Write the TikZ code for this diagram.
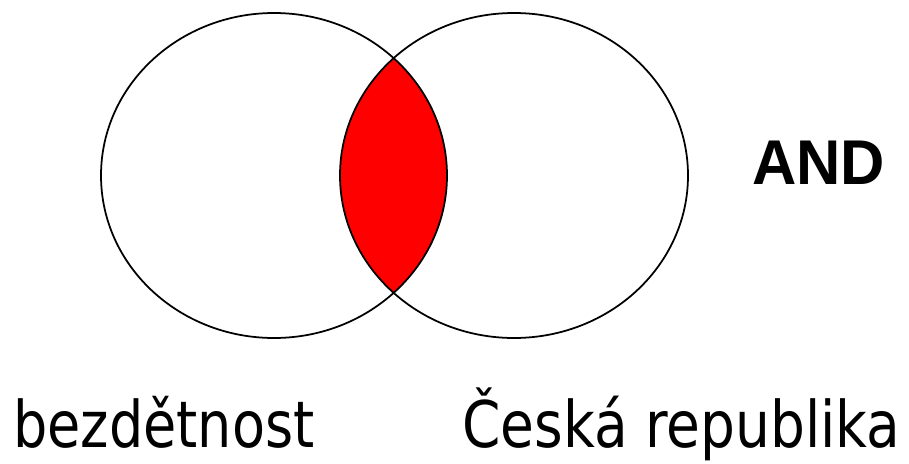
\documentclass[tikz,border=0pt]{standalone}
\usepackage{fontspec}
\setmainfont{DejaVu Sans}
\newfontfamily\andfont{Liberation Sans}
\usetikzlibrary{positioning}

\tikzset{
  setline/.style={black, line width=1pt},
  setlabel/.style={anchor=base west, inner sep=0pt, font=\fontsize{36.6}{36.6}\selectfont},
}

\begin{document}
\begin{tikzpicture}[x=0.02cm, y=-0.02cm]
  % Frame
  \useasboundingbox (0,0) rectangle (909,463);
  % Intersection
  \begin{scope}
    \clip (274,175.5) ellipse [x radius=173, y radius=162.5];
    \fill[red] (514,175.5) ellipse [x radius=174, y radius=162.5];
  \end{scope}
  % Sets
  \draw[setline] (274,175.5) ellipse [x radius=173, y radius=162.5];
  \draw[setline] (514,175.5) ellipse [x radius=174, y radius=162.5];
  % Operator
  \node[anchor=base west, inner sep=0pt, font=\andfont\bfseries\fontsize{36}{36}\selectfont]
    (oplabel) at (752,184) {\scalebox{0.97}[1]{AND}};
  % Set names
  \node[setlabel] (leftname) at (13,447) {\scalebox{0.84}[1]{bezdětnost}};
  \node[setlabel] (rightname) at (462,447) {\scalebox{0.855}[1]{Česká republika}};
\end{tikzpicture}
\end{document}
